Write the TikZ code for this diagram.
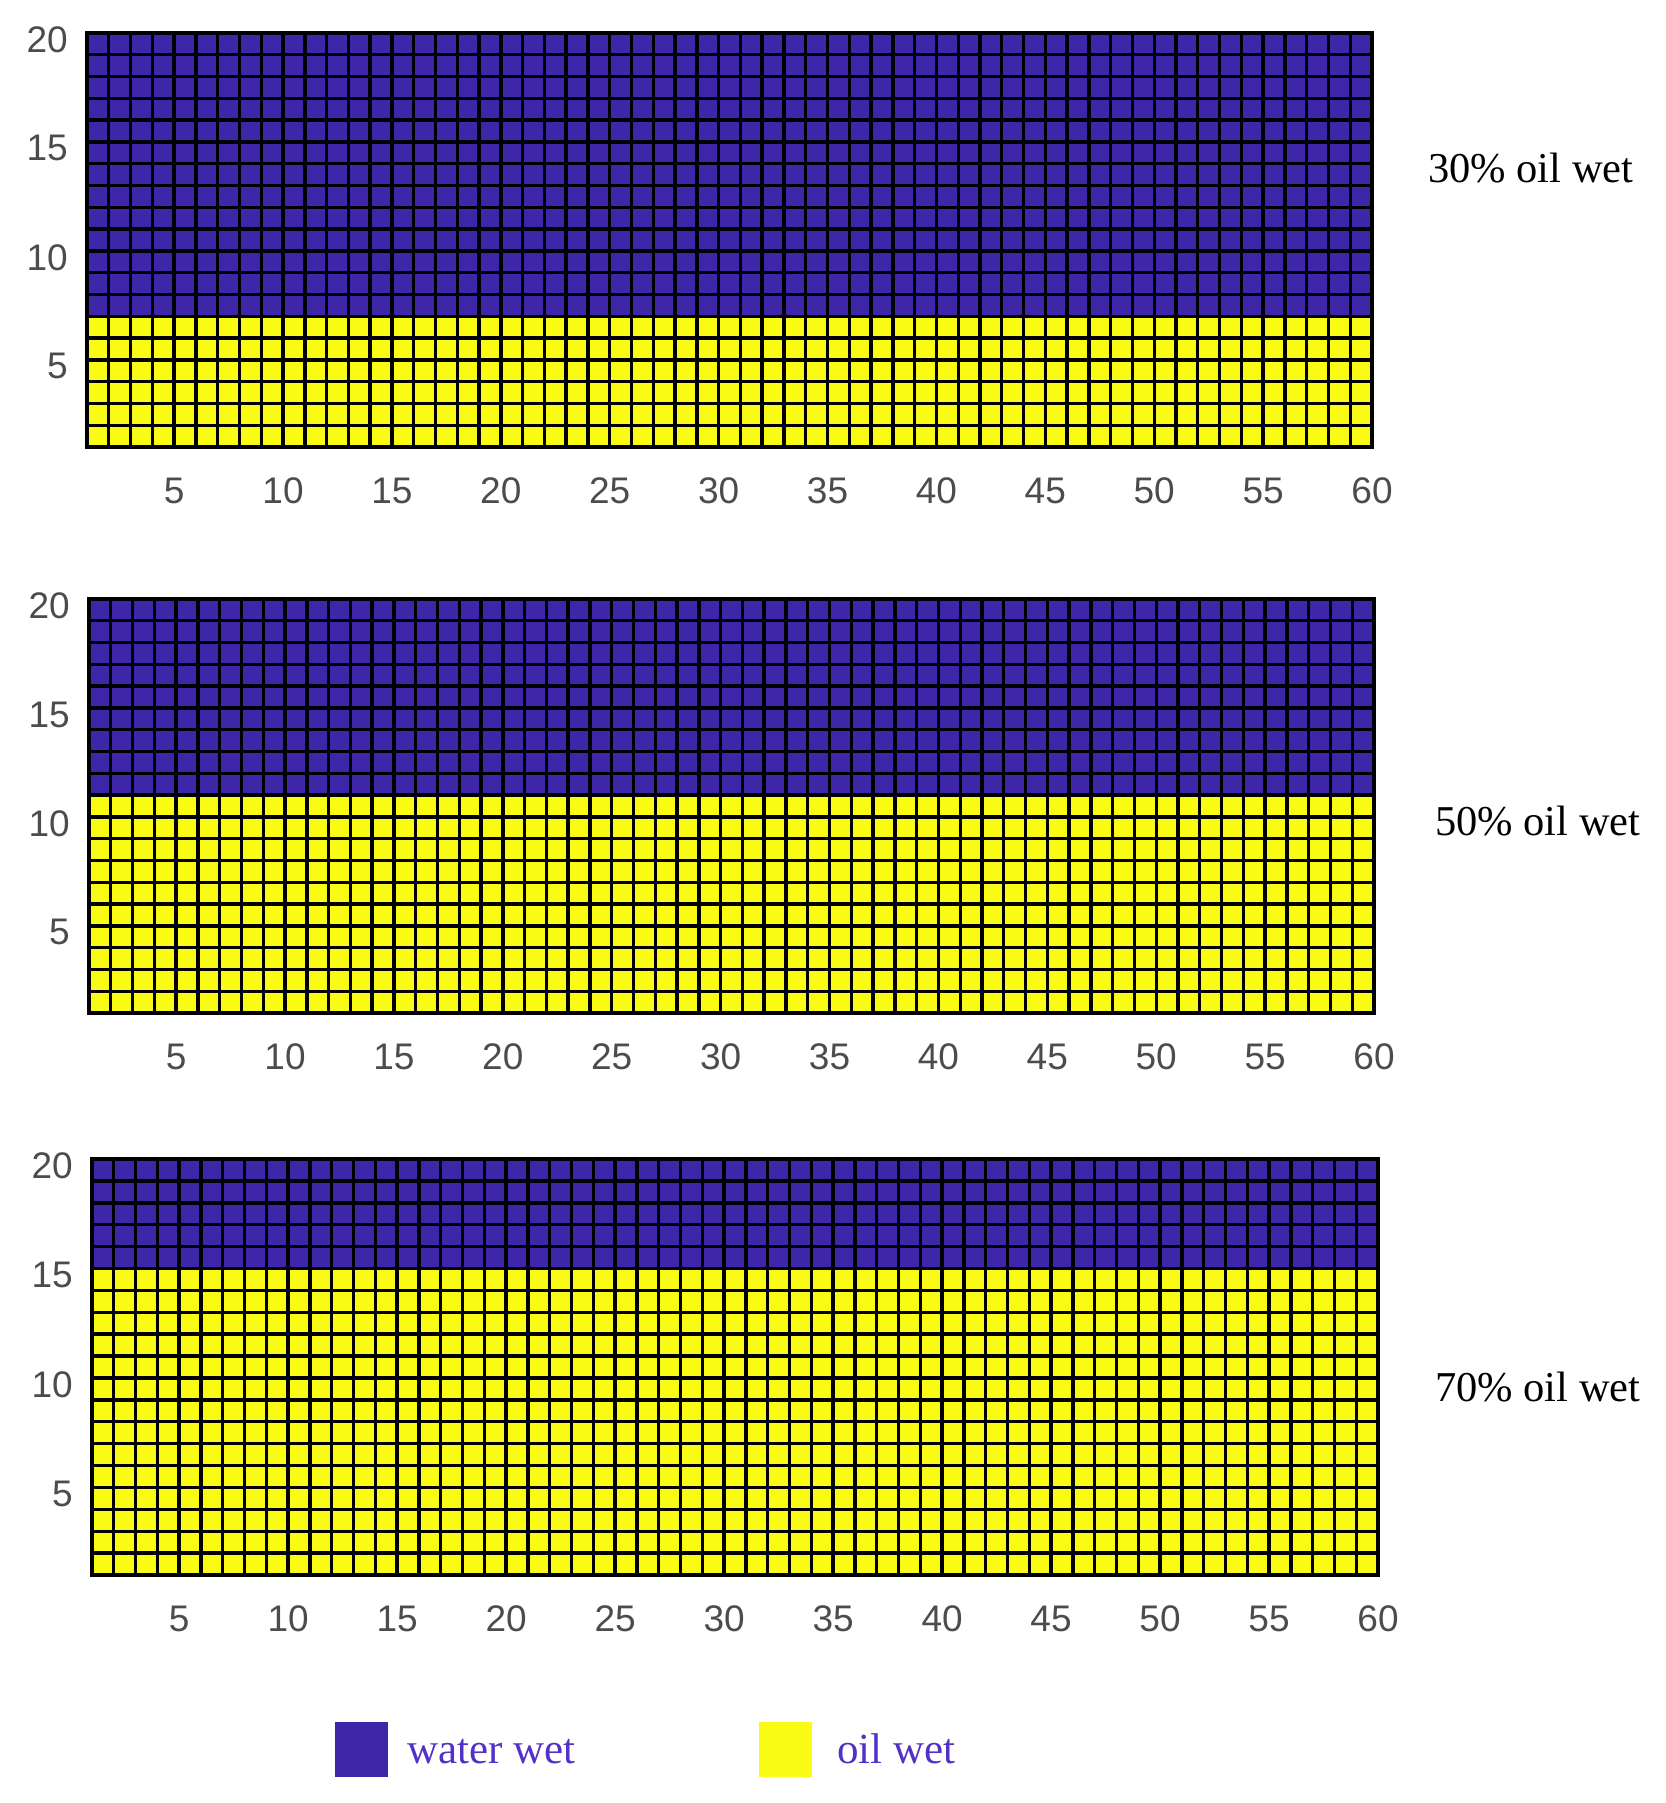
\documentclass[tikz,border=0pt]{standalone}
\usepackage{fontspec}
\setmainfont{Liberation Serif}
\setsansfont{Liberation Sans}
\definecolor{wwet}{rgb}{0.2422,0.1504,0.6603}
\definecolor{owet}{rgb}{0.9769,0.9839,0.0805}
\definecolor{ticktxt}{gray}{0.3}
\definecolor{legtxt}{RGB}{80,50,200}
\tikzset{
  ticklab/.style={font=\sffamily\fontsize{37}{37}\selectfont, text=ticktxt, inner sep=0pt},
  ylab/.style={ticklab, anchor=east},
  xlab/.style={ticklab, anchor=center},
  caselab/.style={font=\fontsize{42.5}{42.5}\selectfont, anchor=base west, inner sep=0pt},
  legtext/.style={font=\fontsize{43}{43}\selectfont, text=legtxt, anchor=base west, inner sep=0pt},
  gridline/.style={line width=3.4pt, black},
  legbox/.style={draw=none, inner sep=0pt, minimum width=53pt, minimum height=55pt, anchor=north west},
}
% #1 left, #2 top, #3 right, #4 bottom, #5 blue rows, #6 name
\newcommand{\wetpanel}[6]{%
  \pgfmathsetmacro{\rh}{(#4-#2)/19}%
  \pgfmathsetmacro{\cw}{(#3-#1)/59}%
  \pgfmathsetmacro{\by}{#2+#5*\rh}%
  \fill[wwet] (#1,#2) rectangle (#3,\by);
  \fill[owet] (#1,\by) rectangle (#3,#4);
  \foreach \i in {1,...,58} \draw[gridline] ({#1+\i*\cw},#2) -- ({#1+\i*\cw},#4);
  \foreach \j in {1,...,18} \draw[gridline] (#1,{#2+\j*\rh}) -- (#3,{#2+\j*\rh});
  \draw[gridline] (#1,#2) rectangle (#3,#4);
  \foreach \v in {5,10,...,60}
    \node[xlab] (#6x\v) at ({#1+(\v-1)*\cw},{#4+44}) {\v};
  \foreach \v in {5,10,15,20}
    \node[ylab] (#6y\v) at ({#1-19},{#2+6.5+(20-\v)*\rh}) {\v};
}
\begin{document}
\begin{tikzpicture}[x=1pt,y=-1pt]
  \useasboundingbox (0,0) rectangle (1665,1803);
  \wetpanel{87}{33}{1372}{447}{13}{pa}
  \wetpanel{89}{599}{1374}{1013}{9}{pb}
  \wetpanel{92}{1159}{1378}{1575}{5}{pc}
  \node[caselab] (lab30) at (1428,183) {30\% oil wet};
  \node[caselab] (lab50) at (1435,835) {50\% oil wet};
  \node[caselab] (lab70) at (1435,1401) {70\% oil wet};
  \node[legbox, fill=wwet] (legw) at (335,1722) {};
  \node[legtext] (legwt) at (407,1763) {water wet};
  \node[legbox, fill=owet] (lego) at (759,1722) {};
  \node[legtext] (legot) at (837,1763) {oil wet};
\end{tikzpicture}
\end{document}
